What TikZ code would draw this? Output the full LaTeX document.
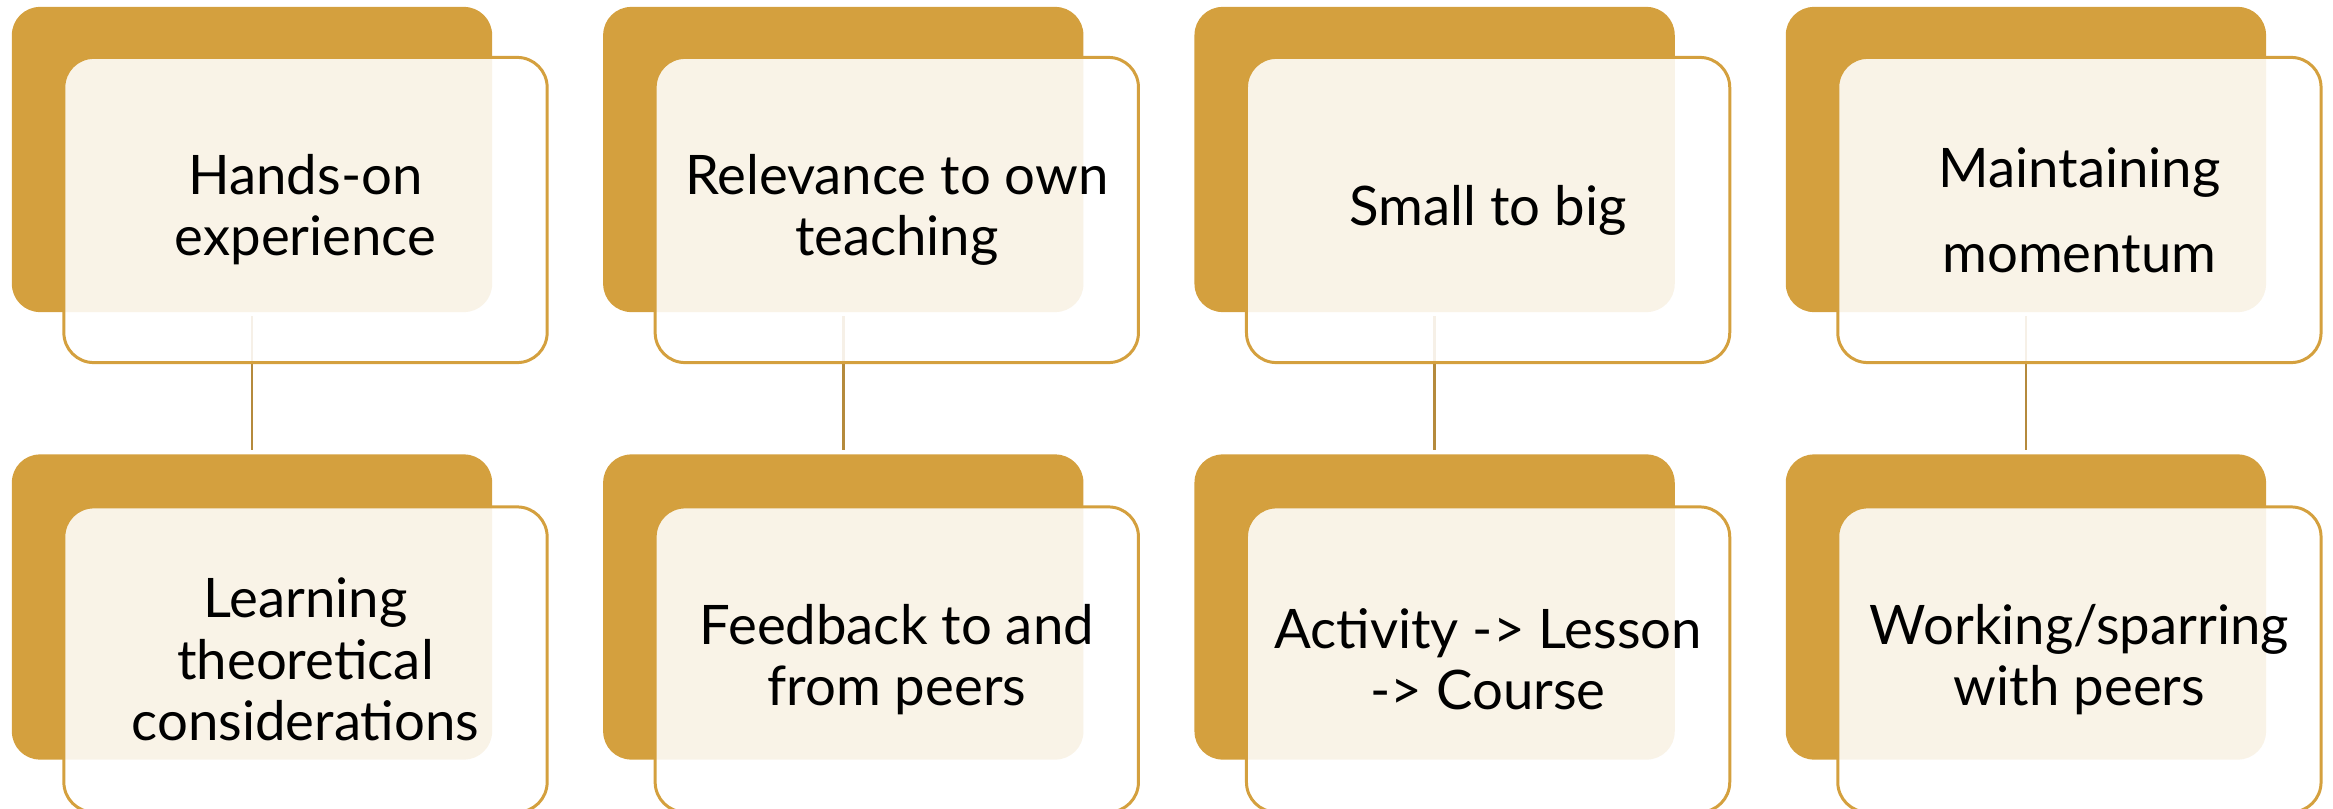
\documentclass[tikz,border=0pt]{standalone}
\usepackage{fontspec}
\setmainfont{Lato}
\definecolor{gold}{RGB}{212,160,62}
\definecolor{darkgold}{RGB}{181,138,60}
\tikzset{
  backbox/.style={fill=gold, rounded corners=8pt, minimum width=4.8cm,
    minimum height=3.05cm, inner sep=0pt},
  frontbox/.style={draw=gold, line width=0.85pt, fill=white, fill opacity=0.88,
    text opacity=1, rounded corners=8.5pt, minimum width=4.83cm,
    minimum height=3.05cm, inner sep=0pt, align=center,
    font=\fontsize{15.5}{17.4}\selectfont},
  link/.style={darkgold, line width=0.8pt, shorten <=1pt, shorten >=1pt}
}
\begin{document}
\begin{tikzpicture}[x=0.01cm, y=-0.01cm]
  \useasboundingbox (0,0) rectangle (2333,809);
  % gold backs
  \node[backbox] (handsback) at (252,159.5) {};
  \node[backbox] (relevanceback) at (843.3,159.5) {};
  \node[backbox] (smallback) at (1434.6,159.5) {};
  \node[backbox] (momentumback) at (2025.9,159.5) {};
  \node[backbox] (theoryback) at (252,607) {};
  \node[backbox] (feedbackback) at (843.3,607) {};
  \node[backbox] (activityback) at (1434.6,607) {};
  \node[backbox] (sparringback) at (2025.9,607) {};
  % links
  \draw[link] (handsback.south) -- (theoryback.north);
  \draw[link] (relevanceback.south) -- (feedbackback.north);
  \draw[link] (smallback.south) -- (activityback.north);
  \draw[link] (momentumback.south) -- (sparringback.north);
  % text boxes
  \node[frontbox] (hands) at (305.5,210) {Hands-on\\experience};
  \node[frontbox] (relevance) at (896.8,210) {Relevance to own\\teaching};
  \node[frontbox] (small) at (1488.1,210) {Small to big};
  \node[frontbox] (momentum) at (2079.4,210) {Maintaining\\[6.8pt]momentum};
  \node[frontbox] (theory) at (305.5,659.5) {Learning\\theoretical\\considerations};
  \node[frontbox] (feedback) at (896.8,659.5) {Feedback to and\\from peers};
  \node[frontbox] (activity) at (1488.1,659.5) {Activity -> Lesson\\-> Course};
  \node[frontbox] (sparring) at (2079.4,659.5) {Working/sparring\\with peers};
\end{tikzpicture}
\end{document}
